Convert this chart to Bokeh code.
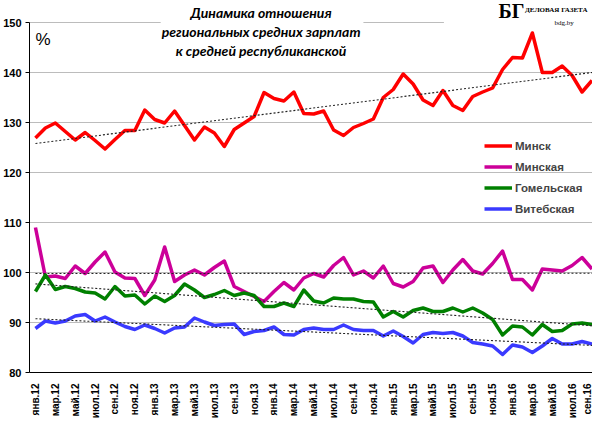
import numpy as np
from bokeh.plotting import figure
from bokeh.models import (FixedTicker, Legend, LegendItem, Label, BoxAnnotation,
                          Range1d, ColumnDataSource)
from bokeh.embed import file_html
from bokeh.resources import INLINE

# ---- data -----------------------------------------------------------------
month_abbr = ["янв", "фев", "мар", "апр", "май", "июн",
              "июл", "авг", "сен", "окт", "ноя", "дек"]
years = ["12", "13", "14", "15", "16"]
n_months = 57  # янв.12 .. сен.16

minsk = [126.9, 128.9, 129.9, 128.2, 126.5, 128.0, 126.4, 124.7, 126.6, 128.4,
         128.4, 132.5, 130.6, 129.9, 132.3, 129.4, 126.5, 129.1, 127.9, 125.2,
         128.6, 129.9, 131.2, 136.0, 134.8, 134.3, 136.1, 131.8, 131.7, 132.3,
         128.5, 127.4, 129.0, 129.8, 130.7, 135.0, 136.6, 139.7, 137.7, 134.5,
         133.4, 136.4, 133.4, 132.4, 135.2, 136.1, 136.9, 140.6, 143.0, 142.9,
         147.9, 140.0, 140.0, 141.3, 139.4, 136.1, 138.4]

minskaya = [109.0, 99.1, 99.3, 98.8, 101.3, 99.8, 102.1, 104.1, 100.1, 98.9,
            98.8, 95.4, 98.5, 105.1, 98.2, 99.5, 100.5, 99.5, 101.0, 102.3,
            97.2, 96.2, 95.2, 94.2, 96.2, 98.0, 96.5, 98.9, 99.8, 99.1,
            101.4, 103.0, 99.5, 100.3, 98.9, 101.3, 97.8, 97.1, 98.2, 100.9,
            101.3, 98.0, 100.5, 102.6, 100.3, 99.7, 101.8, 104.3, 98.6, 98.6,
            96.5, 100.7, 100.5, 100.3, 101.4, 103.0, 100.7]

gomel = [96.2, 99.5, 96.6, 97.2, 96.8, 96.1, 95.9, 94.7, 97.2, 95.3,
         95.5, 93.7, 95.3, 94.2, 95.4, 97.7, 96.5, 95.0, 95.6, 96.4,
         95.4, 95.9, 95.4, 93.2, 93.2, 93.9, 93.2, 96.5, 94.3, 93.9,
         94.9, 94.7, 94.7, 94.2, 94.1, 91.1, 92.2, 91.1, 92.4, 92.9,
         92.2, 92.2, 92.9, 92.1, 92.9, 91.9, 90.6, 87.5, 89.3, 89.1,
         87.5, 89.6, 88.2, 88.4, 89.7, 89.9, 89.6]

vitebsk = [88.8, 90.3, 89.9, 90.3, 91.3, 91.6, 90.3, 91.1, 90.1, 89.2,
           88.6, 89.5, 88.8, 87.9, 88.9, 89.1, 90.9, 90.1, 89.4, 89.6,
           89.7, 87.6, 88.2, 88.4, 89.1, 87.6, 87.5, 88.6, 88.9, 88.6,
           88.6, 89.5, 88.6, 88.4, 88.4, 87.3, 88.3, 87.2, 85.9, 87.6,
           88.0, 87.8, 88.0, 87.3, 86.0, 85.7, 85.3, 83.6, 85.5, 85.1,
           84.0, 85.3, 86.8, 85.7, 85.7, 86.2, 85.7]

series_names = ["Минск", "Минская", "Гомельская", "Витебская"]
series_colors = ["#ff0000", "#cc0099", "#008000", "#3a3aff"]
y_ticks = [80, 90, 100, 110, 120, 130, 140, 150]
title_lines = ["Динамика отношения", "региональных средних зарплат",
               "к средней республиканской"]

# ---- derived --------------------------------------------------------------
labels = [f"{month_abbr[i % 12]}.{years[i // 12]}" for i in range(n_months)]
x = np.arange(n_months)

p = figure(width=592, height=421, output_backend="svg", toolbar_location=None,
           x_range=Range1d(-0.6, 56.05), y_range=Range1d(80, 154.4),
           min_border_top=0, min_border_right=0, min_border_left=29,
           min_border_bottom=39,
           background_fill_color="white", border_fill_color="white")
p.outline_line_color = None
p.xgrid.grid_line_color = None
p.ygrid.grid_line_color = "#bcbcbc"
p.ygrid.grid_line_width = 1
p.ygrid.ticker = FixedTicker(ticks=[t for t in y_ticks if t > 80])

p.yaxis.ticker = FixedTicker(ticks=y_ticks)
p.yaxis.bounds = (80, 150)
p.yaxis.axis_line_color = "black"
p.yaxis.major_tick_line_color = "black"
p.yaxis.major_tick_out = 4
p.yaxis.major_tick_in = 0
p.yaxis.minor_tick_line_color = None
p.yaxis.major_label_standoff = 4
p.yaxis.major_label_text_font = "Liberation Sans"
p.yaxis.major_label_text_font_style = "bold"
p.yaxis.major_label_text_font_size = "11px"
p.yaxis.major_label_text_color = "black"

p.xaxis.ticker = FixedTicker(ticks=list(range(0, n_months, 2)))
p.xaxis.major_label_overrides = {i: labels[i] for i in range(0, n_months, 2)}
p.xaxis.major_label_orientation = np.pi / 2
p.xaxis.axis_line_color = "black"
p.xaxis.major_tick_line_color = None
p.xaxis.minor_tick_line_color = None
p.xaxis.major_label_standoff = 5
p.xaxis.major_label_text_font = "Liberation Sans"
p.xaxis.major_label_text_font_style = "bold"
p.xaxis.major_label_text_font_size = "10px"
p.xaxis.major_label_text_color = "black"

# white boxes behind title and logo (hide the top grid line there)
p.add_layout(BoxAnnotation(left=12.6, right=33.0, bottom=147.6, top=156,
                           fill_color="white", fill_alpha=1, line_color=None))
p.add_layout(BoxAnnotation(left=41.1, right=60, bottom=149.2, top=156,
                           fill_color="white", fill_alpha=1, line_color=None))

items = []
for name, color, vals in zip(series_names, series_colors,
                             [minsk, minskaya, gomel, vitebsk]):
    src = ColumnDataSource(dict(x=x, y=vals))
    r = p.line("x", "y", source=src, line_color=color, line_width=3.5,
               line_join="round")
    k, b = np.polyfit(x, vals, 1)
    p.line([x[0], x[-1]], [b + k * x[0], b + k * x[-1]], line_color="#222222",
           line_width=1.1, line_dash="2 2")
    items.append(LegendItem(label=name, renderers=[r]))

legend = Legend(items=items, location=(455, 156), background_fill_alpha=0,
                border_line_color=None, padding=0, margin=0, spacing=6,
                glyph_width=28, glyph_height=15, label_height=15,
                label_standoff=3, label_text_font="Liberation Sans",
                label_text_font_style="bold", label_text_font_size="11.5px")
p.add_layout(legend)

ty = [152.0, 148.2, 144.5]
for t, yy in zip(title_lines, ty):
    p.add_layout(Label(x=22.7, y=yy, text=t, text_align="center",
                       text_baseline="middle", text_font="Lato",
                       text_font_style="bold italic", text_font_size="14px",
                       text_color="black"))

p.add_layout(Label(x=0.0, y=146.7, text="%", text_align="left",
                   text_baseline="middle", text_font="Liberation Sans",
                   text_font_size="17px", text_color="black"))

p.add_layout(Label(x=47.9, y=152.3, text="БГ", text_align="center",
                   text_baseline="middle", text_font="Liberation Serif",
                   text_font_style="bold", text_font_size="20px",
                   text_color="black"))
p.add_layout(Label(x=52.4, y=152.5, text="ДЕЛОВАЯ ГАЗЕТА", text_align="center",
                   text_baseline="middle", text_font="Liberation Serif",
                   text_font_style="bold", text_font_size="7px",
                   text_color="black"))
p.add_layout(Label(x=53.2, y=150.0, text="bdg.by", text_align="center",
                   text_baseline="middle", text_font="Liberation Serif",
                   text_font_size="7px", text_color="black"))

open("out.html", "w").write(file_html(p, INLINE))
